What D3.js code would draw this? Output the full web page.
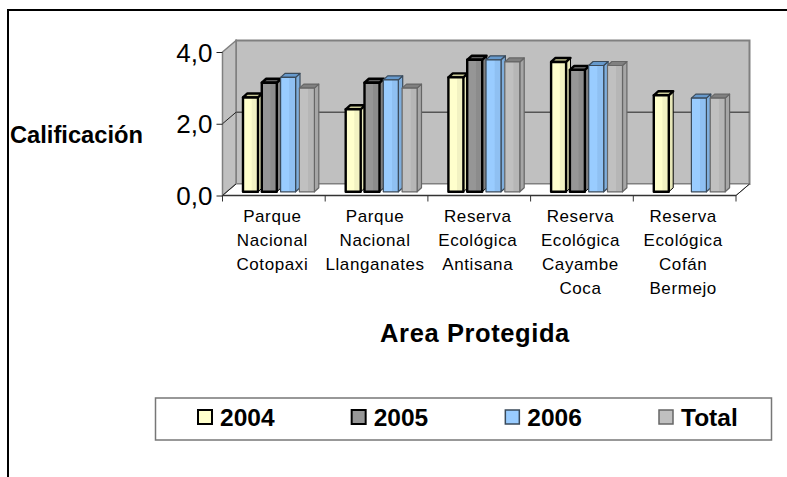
<!DOCTYPE html>
<html><head><meta charset="utf-8">
<script src="https://cdn.jsdelivr.net/npm/d3@7"></script>
<style>html,body{margin:0;padding:0;background:#fff}svg{display:block}text{font-family:"Liberation Sans",Arial,sans-serif;fill:#000}</style>
</head><body><svg id="c" width="787" height="477"></svg>
<script>
const categories=[["Parque","Nacional","Cotopaxi"],["Parque","Nacional","Llanganates"],["Reserva","Ecológica","Antisana"],["Reserva","Ecológica","Cayambe","Coca"],["Reserva","Ecológica","Cofán","Bermejo"]];
const seriesNames=["2004","2005","2006","Total"];
const values2004=[2.63,2.30,3.19,3.62,2.69];
const values2005=[3.04,3.04,3.68,3.40,null];
const values2006=[3.19,3.12,3.68,3.52,2.61];
const valuesTotal=[2.89,2.89,3.62,3.52,2.61];
const yTicks=[0,2,4];
const seriesValues=[values2004,values2005,values2006,valuesTotal];
const frontFill=["#FFFFCC","#969696","#99CCFF","#C0C0C0"];
const shadeFill=["#F2F2C2","#8C8C8C","#8FC0F2","#B6B6B6"];
const sideFill=["#E6E6B8","#808080","#7FAEDD","#A6A6A6"];
const topFill=["#CCCC99","#5F5F5F","#6699CC","#808080"];
const strokeCol=["#000","#000","#3A4A5A","#666"];
const strokeW=[2.4,2.4,1.2,1.2];

const svg=d3.select("#c");
const defs=svg.append("defs");
frontFill.forEach((c,i)=>{
  const g=defs.append("linearGradient").attr("id","g"+i);
  g.append("stop").attr("offset","0").attr("stop-color",c);
  g.append("stop").attr("offset","0.55").attr("stop-color",c);
  g.append("stop").attr("offset","0.6").attr("stop-color",shadeFill[i]);
  g.append("stop").attr("offset","1").attr("stop-color",shadeFill[i]);
});
svg.append("path").attr("d","M8,477V10H787").attr("fill","none").attr("stroke","#000").attr("stroke-width",2);

const left=222.5,right=736,depthX=13.5,depthY=11.5;
const x=d3.scaleBand().domain(d3.range(categories.length)).range([left,right]);
const y=d3.scaleLinear().domain([0,4]).range([195.5,52]);
const inner=d3.scaleBand().domain(d3.range(seriesNames.length)).range([20.5,95.7]);
const wallC="#808080";
const poly=p=>"M"+p.map(q=>q.join(",")).join("L")+"Z";
const y0=y(0),y4=y(4);
svg.append("path").attr("d",poly([[left+depthX,y4-depthY],[right+depthX,y4-depthY],[right+depthX,y0-depthY],[left+depthX,y0-depthY]])).attr("fill","#C0C0C0").attr("stroke",wallC).attr("stroke-width",2);
svg.append("path").attr("d",poly([[left,y4],[left+depthX,y4-depthY],[left+depthX,y0-depthY],[left,y0]])).attr("fill","#C0C0C0").attr("stroke",wallC).attr("stroke-width",1.5);
svg.append("path").attr("d",poly([[left,y0],[left+depthX,y0-depthY],[right+depthX,y0-depthY],[right,y0]])).attr("fill","#fff").attr("stroke",wallC).attr("stroke-width",1);
yTicks.slice(1,-1).forEach(t=>{
  svg.append("path").attr("d",`M${left},${y(t)}L${left+depthX},${y(t)-depthY}`).attr("fill","none").attr("stroke","#222").attr("stroke-width",1);
  svg.append("path").attr("d",`M${left+depthX},${y(t)-depthY}H${right+depthX}`).attr("fill","none").attr("stroke","#555").attr("stroke-width",1.5);
});
svg.append("path").attr("d",`M${left},${y0}L${left+depthX},${y0-depthY}M${right},${y0}L${right+depthX},${y0-depthY}`).attr("stroke","#222").attr("stroke-width",1).attr("fill","none");
const w=15,dx=4.4,dy=4,baseShift=3.7;
seriesValues.forEach((vals,s)=>{
  vals.forEach((v,c)=>{
    if(v==null) return;
    const bx=x(c)+inner(s), top=y(v)-baseShift, base=y0-baseShift;
    const g=svg.append("g").attr("stroke",strokeCol[s]).attr("stroke-width",strokeW[s]).attr("stroke-linejoin","round");
    g.append("path").attr("d",poly([[bx+w,top],[bx+w+dx,top-dy],[bx+w+dx,base-dy],[bx+w,base]])).attr("fill",sideFill[s]).attr("stroke-width",strokeW[s]>1.5?1:strokeW[s]);
    g.append("path").attr("d",poly([[bx,top],[bx+dx,top-dy],[bx+w+dx,top-dy],[bx+w,top]])).attr("fill",topFill[s]);
    g.append("rect").attr("x",bx).attr("y",top).attr("width",w).attr("height",base-top).attr("fill",`url(#g${s})`);
  });
});
const ax=svg.append("g").attr("transform",`translate(${left},0)`).call(d3.axisLeft(y).tickValues(yTicks).tickSize(6).tickPadding(4).tickFormat(d=>d3.format(".1f")(d).replace(".",",")));
ax.select(".domain").remove();
ax.selectAll("line").attr("stroke","#222");
ax.selectAll("text").attr("font-size",26).style("font-family",'"Liberation Sans",Arial,sans-serif').attr("dy","0.35em");
const bx=svg.append("g").attr("transform",`translate(0,${y0})`).call(d3.axisBottom(x).tickSize(0).tickFormat(""));
bx.select(".domain").remove();
bx.selectAll(".tick text").remove();
svg.append("line").attr("x1",left).attr("x2",right).attr("y1",y0).attr("y2",y0).attr("stroke","#333").attr("stroke-width",1.5);
d3.range(categories.length+1).forEach(i=>{
  const tx=left+i*x.step();
  svg.append("line").attr("x1",tx).attr("x2",tx).attr("y1",y0).attr("y2",y0+6).attr("stroke","#333");
});
categories.forEach((lines,c)=>{
  const t=svg.append("text").attr("text-anchor","middle").attr("font-size",17).attr("letter-spacing",0.6).attr("fill","#000");
  lines.forEach((l,i)=>t.append("tspan").attr("x",x(c)+x.bandwidth()/2-1.5).attr("y",222+i*24.1).text(l));
});
svg.append("text").attr("x",10).attr("y",143).attr("font-size",23.7).attr("font-weight","bold").text("Calificación");
svg.append("text").attr("x",475).attr("y",342).attr("text-anchor","middle").attr("font-size",25.5).attr("font-weight","bold").attr("letter-spacing",0.6).text("Area Protegida");
svg.append("rect").attr("x",155.5).attr("y",398).attr("width",616).attr("height",42).attr("fill","#fff").attr("stroke","#777").attr("stroke-width",1.5);
const legX=d3.scalePoint().domain(seriesNames).range([198,659]);
seriesNames.forEach((n,i)=>{
  svg.append("rect").attr("x",legX(n)).attr("y",410).attr("width",14).attr("height",14).attr("fill",frontFill[i]).attr("stroke",strokeCol[i]).attr("stroke-width",strokeW[i]>1.5?2:1.5);
  svg.append("text").attr("x",legX(n)+22).attr("y",425.5).attr("font-size",24.5).attr("font-weight","bold").text(n);
});
</script></body></html>
